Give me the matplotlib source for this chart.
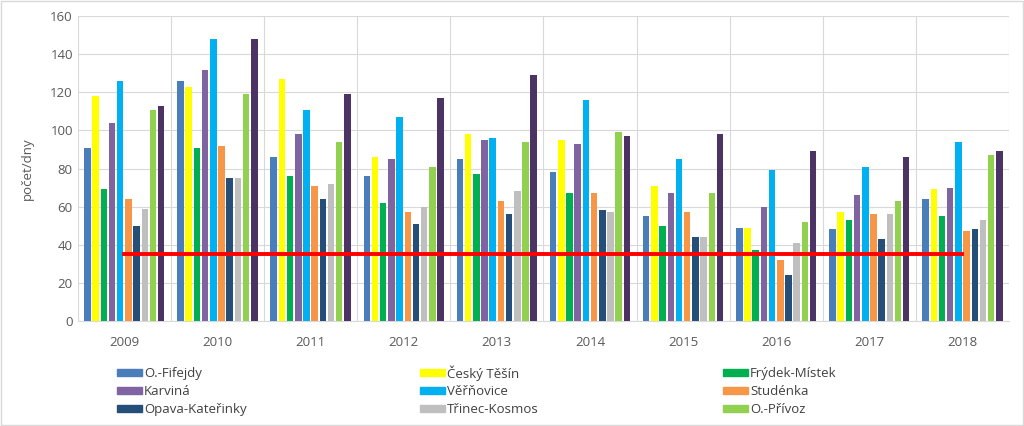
import numpy as np
import matplotlib
matplotlib.use("Agg")
import matplotlib.pyplot as plt
from matplotlib.patches import Rectangle

plt.rcParams['font.family'] = ['Open Sans', 'DejaVu Sans']

years = ['2009', '2010', '2011', '2012', '2013', '2014', '2015', '2016', '2017', '2018']

stations = ['O.-Fifejdy', 'Český Těšín', 'Frýdek-Místek', 'Karviná', 'Věřňovice',
            'Studénka', 'Opava-Kateřinky', 'Třinec-Kosmos', 'O.-Přívoz', '']

fifejdy = [91, 126, 86, 76, 85, 78, 55, 49, 48, 64]
cesky_tesin = [118, 123, 127, 86, 98, 95, 71, 49, 57, 69]
frydek = [69, 91, 76, 62, 77, 67, 50, 37, 53, 55]
karvina = [104, 132, 98, 85, 95, 93, 67, 60, 66, 70]
verovice = [126, 148, 111, 107, 96, 116, 85, 79, 81, 94]
studenka = [64, 92, 71, 57, 63, 67, 57, 32, 56, 47]
opava = [50, 75, 64, 51, 56, 58, 44, 24, 43, 48]
trinec = [59, 75, 72, 60, 68, 57, 44, 41, 56, 53]
privoz = [111, 119, 94, 81, 94, 99, 67, 52, 63, 87]
tenth = [113, 148, 119, 117, 129, 97, 98, 89, 86, 89]

limit = [35] * len(years)

series = [fifejdy, cesky_tesin, frydek, karvina, verovice,
          studenka, opava, trinec, privoz, tenth]
colors = ['#4A7EBB', '#FFFF00', '#00B050', '#8064A2', '#00B0F0',
          '#F79646', '#254E78', '#BFBFBF', '#92D050', '#4B3463']

W, H = 1024, 426
fig = plt.figure(figsize=(W / 100, H / 100), dpi=100)
ax = fig.add_axes([0.0759, 0.247, 0.9095, 0.7147])

x = np.arange(len(years))
slot = 0.088
width = 0.07
for i, (vals, col) in enumerate(zip(series, colors)):
    offs = (i - 4.5) * slot
    ax.bar(x + offs, vals, width=width, color=col, zorder=3)

ax.plot(x, limit, color='#FF0000', lw=2.8, zorder=4)

ax.set_xlim(-0.5, len(years) - 0.5)
ax.set_ylim(0, 160)
ax.set_yticks(range(0, 161, 20))
ax.set_xticks(x)
ax.set_xticklabels(years)
ax.set_xticks(np.arange(-0.5, len(years), 1), minor=True)
ax.tick_params(axis='both', which='both', length=0, labelsize=9.5, colors='#595959')
ax.tick_params(axis='x', pad=11)
ax.grid(axis='y', color='#D9D9D9', lw=0.8, zorder=0)
ax.grid(axis='x', which='minor', color='#D9D9D9', lw=0.8, zorder=0)
for s in ['top', 'right', 'left']:
    ax.spines[s].set_visible(False)
ax.spines['bottom'].set_color('#D9D9D9')
ax.set_ylabel('počet/dny', fontsize=9.5, color='#595959', labelpad=12)

# legend drawn by hand: 3 columns x 3 rows, row-wise; 10th series has no entry
col_px = [117, 420, 723]
row_px = [372, 390, 408]
for i in range(9):
    px = col_px[i % 3]
    py = row_px[i // 3]
    fig.patches.append(Rectangle((px / W, 1 - (py + 3.5) / H), 25 / W, 7 / H,
                                 transform=fig.transFigure, color=colors[i]))
    fig.text((px + 27) / W, 1 - py / H, stations[i], fontsize=9.5,
             color='#404040', va='center_baseline', ha='left')

# outer chart border
fig.patches.append(Rectangle((0.001, 0.002), 0.998, 0.996, transform=fig.transFigure,
                             fill=False, edgecolor='#D9D9D9', lw=1))

fig.savefig('out.png', dpi=100)
